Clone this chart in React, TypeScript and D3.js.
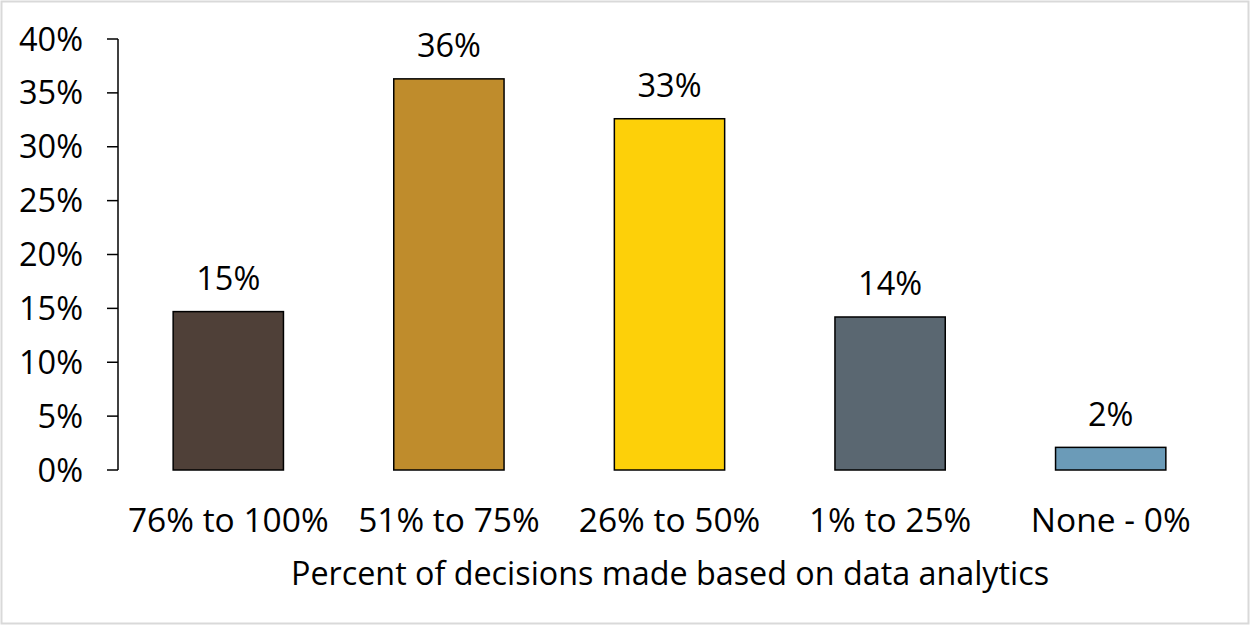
import React from "react";
import * as d3 from "d3";

const categories = ["76% to 100%", "51% to 75%", "26% to 50%", "1% to 25%", "None - 0%"];
const values = [14.7, 36.3, 32.6, 14.2, 2.1];
const labels = ["15%", "36%", "33%", "14%", "2%"];
const colors = ["#4f4038", "#bf8c2c", "#fdd009", "#5a6771", "#6b9bb8"];
const yTicks = [0, 5, 10, 15, 20, 25, 30, 35, 40];
const xTitle = "Percent of decisions made based on data analytics";

export default function App() {
  const W = 1250, H = 625;
  const left = 118, right = 1221, top = 39, bottom = 470;
  const x = d3.scaleBand<string>().domain(categories).range([left, right]).paddingInner(0.5).paddingOuter(0.25);
  const y = d3.scaleLinear().domain([0, 40]).range([bottom, top]);
  const font = "'Open Sans', 'Liberation Sans', sans-serif";
  const fs = 32.5;
  return (
    <svg width={W} height={H} style={{ position: "absolute", left: 0, top: 0 }} fontFamily={font}>
      <rect x={1.5} y={1.5} width={W - 3} height={H - 3} fill="#fff" stroke="#d9d9d9" strokeWidth={2} />
      {categories.map((c, i) => (
        <g key={c}>
          <rect x={x(c)!} y={y(values[i])} width={x.bandwidth()} height={bottom - y(values[i])} fill={colors[i]} stroke="#000" strokeWidth={1.5} />
          <text x={x(c)! + x.bandwidth() / 2} y={y(values[i]) - 21.5} textAnchor="middle" fontSize={fs} fill="#000">{labels[i]}</text>
          <text x={x(c)! + x.bandwidth() / 2} y={532} textAnchor="middle" fontSize={33.5} fill="#000">{c}</text>
        </g>
      ))}
      <line x1={left} x2={left} y1={top} y2={bottom} stroke="#000" strokeWidth={1.5} />
      {yTicks.map((t) => (
        <g key={t}>
          <line x1={107} x2={left} y1={y(t)} y2={y(t)} stroke="#000" strokeWidth={1.5} />
          <text x={83} y={y(t) + 11.5} textAnchor="end" fontSize={fs} fill="#000">{t}%</text>
        </g>
      ))}
      <text x={670} y={585} textAnchor="middle" fontSize={32.3} fill="#000">{xTitle}</text>
    </svg>
  );
}
